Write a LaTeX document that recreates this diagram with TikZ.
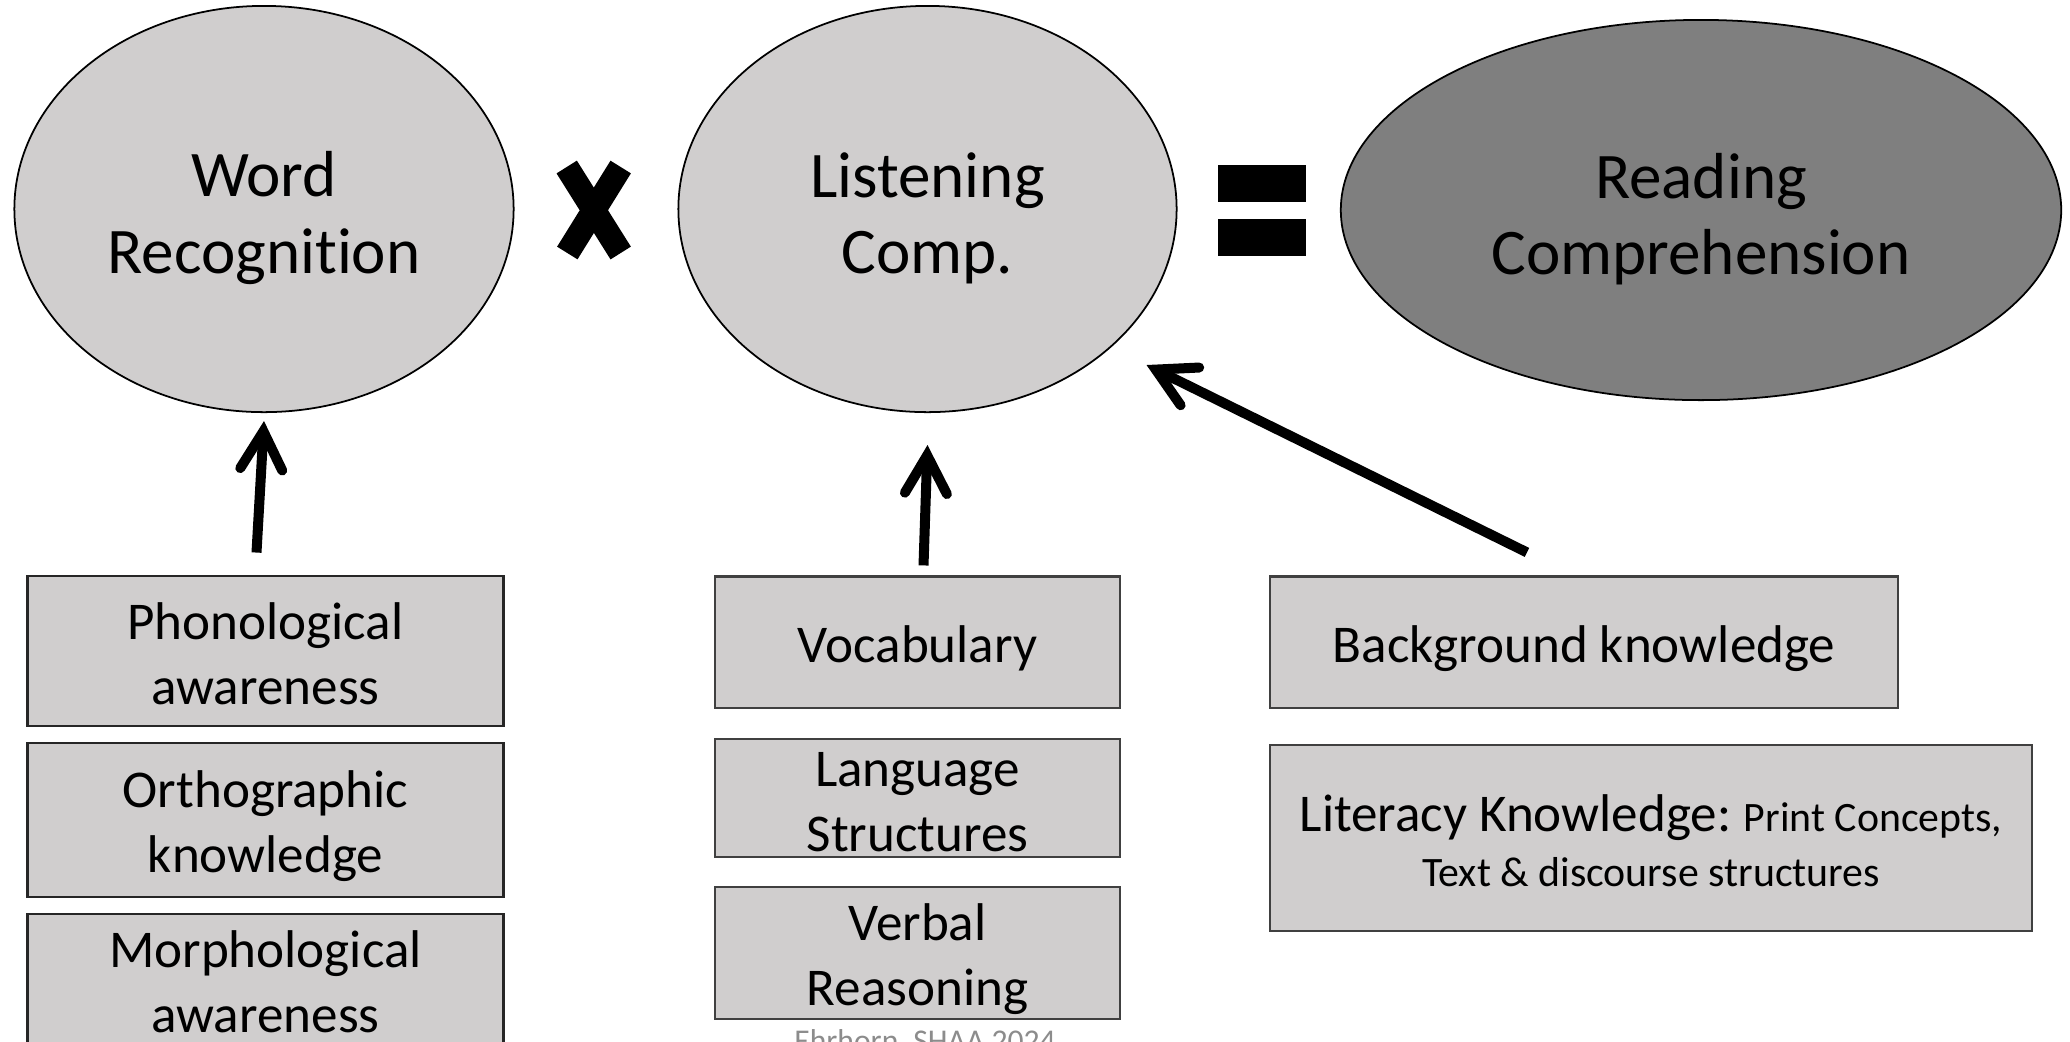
\documentclass[tikz,border=0pt]{standalone}
\usepackage{fontspec}
\setmainfont{Carlito}[Ligatures=NoCommon]
\usetikzlibrary{shapes.geometric,arrows.meta}
\definecolor{ovalgray}{HTML}{D0CECE}
\definecolor{darkoval}{HTML}{7F7F7F}
\definecolor{edgegray}{HTML}{404040}
\definecolor{footgray}{HTML}{8C8C8C}

% struts that set the text a little lower in its shape
\newcommand{\ovalstrut}{\rule{0pt}{18pt}}
\newcommand{\boxstrut}[1][14pt]{\rule{0pt}{#1}}

\tikzset{
  oval/.style={ellipse, draw=black, line width=0.5pt, inner sep=0pt, align=center,
    font=\fontsize{18.5}{21.8}\selectfont},
  skillbox/.style={rectangle, fill=ovalgray, draw=black!85, line width=0.8pt, inner sep=0pt,
    align=center, font=\fontsize{15.1}{18.4}\selectfont},
  knowbox/.style={skillbox, draw=edgegray, line width=0.6pt},
  bigarrow/.style={line width=0.1cm,
    -{Straight Barb[length=0.38cm, width=0.42cm, line cap=round, line join=miter]}}
}

\begin{document}
\begin{tikzpicture}[x=0.01cm, y=-0.01cm]
\useasboundingbox (0,0) rectangle (2070,1041);
\clip (0,0) rectangle (2070,1041);
\fill[white] (0,0) rectangle (2070,1041);

% Ovals on top
\node[oval, fill=ovalgray, minimum width=4.99cm, minimum height=4.06cm] (wordrec) at (264,209) {\ovalstrut Word\\Recognition};
\node[oval, fill=ovalgray, minimum width=4.98cm, minimum height=4.06cm] (listen) at (927.5,209) {\ovalstrut Listening\\Comp.};
\node[oval, fill=darkoval, minimum width=7.2cm, minimum height=3.8cm] (readcomp) at (1701,210) {\ovalstrut Reading\\Comprehension};

% Times and equals signs
\draw[line width=0.24cm] (566.7,167) -- (620.7,253) (620.7,167) -- (567.3,253);
\fill (1218,165) rectangle (1306,202);
\fill (1218,219) rectangle (1306,256);

% Word recognition skills
\node[skillbox, minimum width=4.76cm, minimum height=1.5cm] (phono) at (265.5,651) {\boxstrut[12pt]Phonological\\awareness};
\node[skillbox, minimum width=4.76cm, minimum height=1.54cm] (ortho) at (265.5,820) {\boxstrut Orthographic\\knowledge};
\node[skillbox, minimum width=4.76cm, minimum height=1.36cm] (morpho) at (265.5,982) {Morphological\\awareness};

% Language skills
\node[knowbox, minimum width=4.04cm, minimum height=1.31cm] (vocab) at (917.5,642) {\boxstrut Vocabulary};
\node[knowbox, minimum width=4.04cm, minimum height=1.18cm] (langstruct) at (917.5,798) {\boxstrut[12pt]Language\\Structures};
\node[knowbox, minimum width=4.04cm, minimum height=1.32cm] (verbal) at (917.5,953) {\boxstrut Verbal\\Reasoning};

% Knowledge
\node[knowbox, minimum width=6.28cm, minimum height=1.31cm] (backgr) at (1584,642) {\boxstrut Background knowledge};
\node[knowbox, minimum width=7.62cm, minimum height=1.86cm, font=\fontsize{11.9}{15.8}\selectfont] (literacy) at (1651,838)
  {\boxstrut[12pt]{\fontsize{15.1}{18.4}\selectfont Literacy Knowledge:} Print Concepts,\\Text \& discourse structures};

% Arrows
\draw[bigarrow] ([xshift=-0.09cm, yshift=0.22cm]phono.north) -- ([yshift=-0.08cm]wordrec.south);
\draw[bigarrow] ([xshift=0.06cm, yshift=0.1cm]vocab.north) -- ([yshift=-0.32cm]listen.south);
\draw[bigarrow] ([xshift=-0.57cm, yshift=0.23cm]backgr.north) -- ([shift={(219,156)}]listen.center);

\node[anchor=base, font=\fontsize{9}{11}\selectfont, text=footgray] (footer) at (925,1051) {Ehrhorn, SHAA 2024};
\end{tikzpicture}
\end{document}
